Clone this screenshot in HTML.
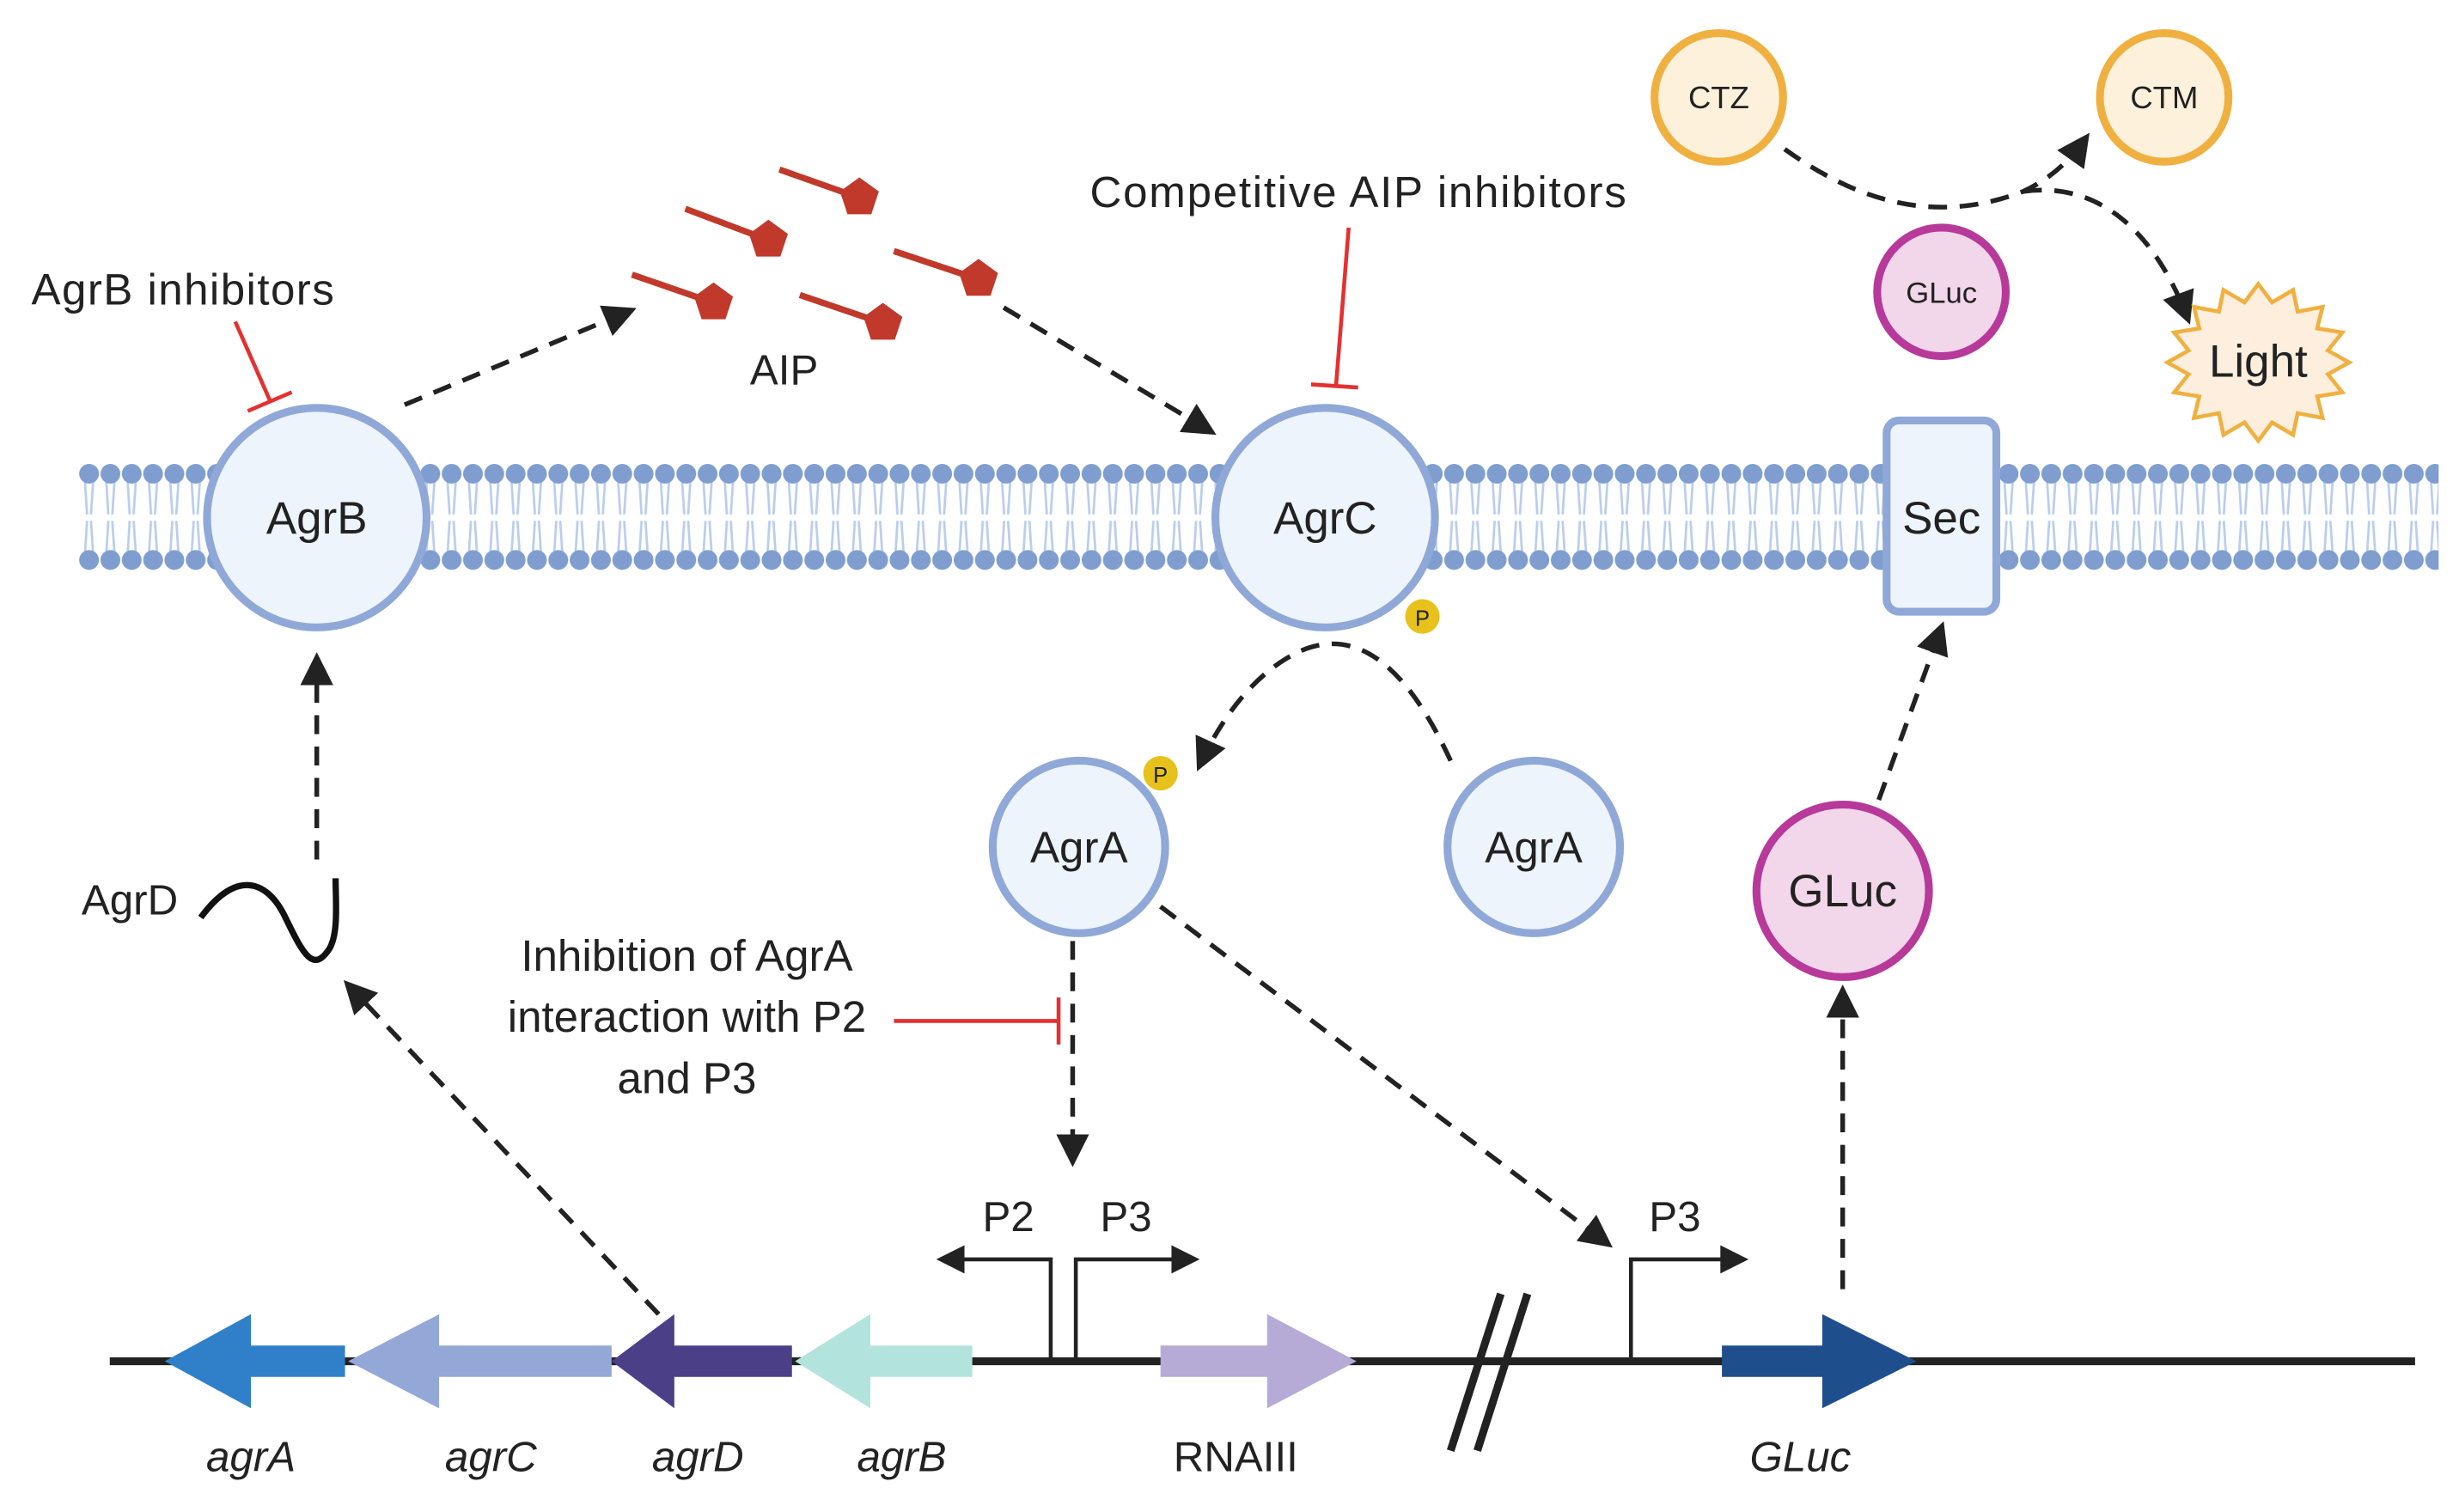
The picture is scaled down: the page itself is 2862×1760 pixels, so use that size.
<!DOCTYPE html>
<html><head><meta charset="utf-8"><style>
html,body{margin:0;padding:0;background:#fff}
svg{display:block}
text{font-family:"Liberation Sans",sans-serif;fill:#222}
</style></head><body>
<svg id="s" width="2862" height="1760" viewBox="0 0 1568 964" xmlns="http://www.w3.org/2000/svg">
<defs>
<pattern id="mem" x="50" y="290" width="13.6" height="80" patternUnits="userSpaceOnUse">
<line x1="4" y1="304" x2="5.5" y2="328" stroke="#b9cdee" stroke-width="1.5" transform="translate(0,-290)"/>
<line x1="9.6" y1="304" x2="8" y2="328" stroke="#b9cdee" stroke-width="1.5" transform="translate(0,-290)"/>
<line x1="4" y1="356" x2="5.5" y2="332" stroke="#b9cdee" stroke-width="1.5" transform="translate(0,-290)"/>
<line x1="9.6" y1="356" x2="8" y2="332" stroke="#b9cdee" stroke-width="1.5" transform="translate(0,-290)"/>
<circle cx="6.8" cy="12" r="6.3" fill="#7f9dcf"/>
<circle cx="6.8" cy="67" r="6.3" fill="#7f9dcf"/>
</pattern>
<marker id="ah" viewBox="0 0 10 10" refX="8" refY="5" markerWidth="7" markerHeight="7" orient="auto"><path d="M0,0L10,5L0,10z" fill="#222"/></marker>
</defs>
<rect x="50" y="290" width="1505" height="80" fill="url(#mem)"/>

<g stroke="#222" stroke-width="3" stroke-dasharray="12,8" fill="none" marker-end="url(#ah)">
<line x1="258" y1="258" x2="402" y2="198"/>
<line x1="640" y1="196" x2="772" y2="275"/>
<path d="M925,485 C895,420 860,395 820,420 C800,432 780,455 765,488"/>
<line x1="202" y1="548" x2="202" y2="420"/>
<line x1="420" y1="838" x2="222" y2="628"/>
<line x1="684" y1="600" x2="684" y2="740"/>
<line x1="740" y1="578" x2="1025" y2="793"/>
<line x1="1175" y1="822" x2="1175" y2="632"/>
<line x1="1198" y1="510" x2="1238" y2="400"/>
<path d="M1138,95 C1180,125 1230,145 1290,122 C1305,115 1318,105 1330,88"/>
<path d="M1290,122 C1340,115 1375,150 1395,203"/>
</g>

<g stroke="#c0392b" stroke-width="4" fill="#c0392b">
<line x1="497" y1="108" x2="548" y2="126"/>
<line x1="437" y1="133" x2="490" y2="153"/>
<line x1="570" y1="160" x2="624" y2="178"/>
<line x1="403" y1="175" x2="455" y2="193"/>
<line x1="510" y1="188" x2="563" y2="206"/>
</g>
<g fill="#c0392b" id="pents"></g>
<text x="500" y="245" font-size="27" text-anchor="middle">AIP</text>

<g fill="#eef4fc" stroke="#8fa8d8" stroke-width="5">
<circle cx="202" cy="330" r="70"/>
<circle cx="845" cy="330" r="70"/>
<rect x="1203" y="268" width="70" height="122" rx="8"/>
<circle cx="688" cy="540" r="55"/>
<circle cx="978" cy="540" r="55"/>
</g>
<text x="202" y="340" font-size="29" text-anchor="middle">AgrB</text>
<text x="845" y="340" font-size="29" text-anchor="middle">AgrC</text>
<text x="1238" y="340" font-size="29" text-anchor="middle">Sec</text>
<text x="688" y="550" font-size="28" text-anchor="middle">AgrA</text>
<text x="978" y="550" font-size="28" text-anchor="middle">AgrA</text>
<g fill="#e8c21c"><circle cx="907" cy="393" r="11"/><circle cx="740" cy="493" r="11"/></g>
<text x="907" y="399" font-size="14" text-anchor="middle">P</text>
<text x="740" y="499" font-size="14" text-anchor="middle">P</text>

<g fill="#f2d6ea" stroke="#b7399a" stroke-width="5"><circle cx="1175" cy="568" r="55"/><circle cx="1238" cy="186" r="41"/></g>
<text x="1175" y="578" font-size="29" text-anchor="middle">GLuc</text>
<text x="1238" y="193" font-size="19" text-anchor="middle">GLuc</text>
<g fill="#fdf1dc" stroke="#f0b040" stroke-width="5"><circle cx="1096" cy="62" r="41"/><circle cx="1380" cy="62" r="41"/></g>
<text x="1096" y="69" font-size="20" text-anchor="middle">CTZ</text>
<text x="1380" y="69" font-size="20" text-anchor="middle">CTM</text>
<polygon id="burst" fill="#fdeedd" stroke="#f0b040" stroke-width="2.5"/>
<text x="1440" y="240" font-size="29" text-anchor="middle">Light</text>

<g stroke="#e53030" stroke-width="2.5" fill="none">
<line x1="150" y1="205" x2="172" y2="255"/><line x1="158" y1="262" x2="186" y2="250"/>
<line x1="860" y1="145" x2="852" y2="245"/><line x1="836" y1="245" x2="866" y2="247"/>
<line x1="570" y1="651" x2="675" y2="651"/><line x1="675" y1="636" x2="675" y2="666"/>
</g>
<text x="20" y="194" font-size="28" textLength="193">AgrB inhibitors</text>
<text x="695" y="132" font-size="28" textLength="342">Competitive AIP inhibitors</text>
<text x="438" y="619" font-size="28" text-anchor="middle">Inhibition of AgrA</text>
<text x="438" y="658" font-size="28" text-anchor="middle">interaction with P2</text>
<text x="438" y="697" font-size="28" text-anchor="middle">and P3</text>

<text x="52" y="583" font-size="27">AgrD</text>
<path d="M128,585 C150,555 170,560 182,585 C194,610 200,620 210,605 C216,595 214,575 214,560" stroke="#111" stroke-width="4" fill="none"/>

<line x1="70" y1="868" x2="1540" y2="868" stroke="#222" stroke-width="5"/>
<polygon points="220,858 160,858 160,838 105,868 160,898 160,878 220,878" fill="#2f80c8"/>
<polygon points="390,858 280,858 280,838 222,868 280,898 280,878 390,878" fill="#93a8d6"/>
<polygon points="505,858 430,858 430,838 390,868 430,898 430,878 505,878" fill="#4b3f88"/>
<polygon points="620,858 555,858 555,838 507,868 555,898 555,878 620,878" fill="#b2e3dc"/>
<polygon points="740,858 808,858 808,838 865,868 808,898 808,878 740,878" fill="#b6aad6"/>
<polygon points="1098,858 1162,858 1162,838 1222,868 1162,898 1162,878 1098,878" fill="#1f4e8c"/>
<g stroke="#222" stroke-width="5"><line x1="925" y1="925" x2="957" y2="825"/><line x1="942" y1="925" x2="974" y2="825"/></g>
<g stroke="#222" stroke-width="2.5" fill="none">
<polyline points="670,866 670,803 610,803"/><polyline points="686,866 686,803 752,803"/><polyline points="1040,866 1040,803 1102,803"/>
</g>
<g fill="#222"><polygon points="597,803 615,794 615,812"/><polygon points="765,803 747,794 747,812"/><polygon points="1115,803 1097,794 1097,812"/></g>
<text x="643" y="785" font-size="27" text-anchor="middle">P2</text>
<text x="718" y="785" font-size="27" text-anchor="middle">P3</text>
<text x="1068" y="785" font-size="27" text-anchor="middle">P3</text>
<g font-size="27" font-style="italic" text-anchor="middle">
<text x="160" y="938">agrA</text><text x="313" y="938">agrC</text><text x="445" y="938">agrD</text><text x="575" y="938">agrB</text><text x="1148" y="938">GLuc</text>
</g>
<text x="788" y="938" font-size="27" text-anchor="middle">RNAIII</text>
</svg>
<script>
var ns="http://www.w3.org/2000/svg";
var P=[[548,126],[490,153],[624,178],[455,193],[563,206]],g=document.getElementById('pents');
P.forEach(function(c){var pts=[];for(var i=0;i<5;i++){var a=-Math.PI/2+i*2*Math.PI/5;pts.push((c[0]+13*Math.cos(a)).toFixed(1)+','+(c[1]+13*Math.sin(a)).toFixed(1));}
var p=document.createElementNS(ns,'polygon');p.setAttribute('points',pts.join(' '));g.appendChild(p);});
var b=[];for(var i=0;i<32;i++){var a=-Math.PI/2+i*Math.PI/16,r=i%2?0.78:1;b.push((1440+58*r*Math.cos(a)).toFixed(1)+','+(231+50*r*Math.sin(a)).toFixed(1));}
document.getElementById('burst').setAttribute('points',b.join(' '));
</script>
</body></html>
